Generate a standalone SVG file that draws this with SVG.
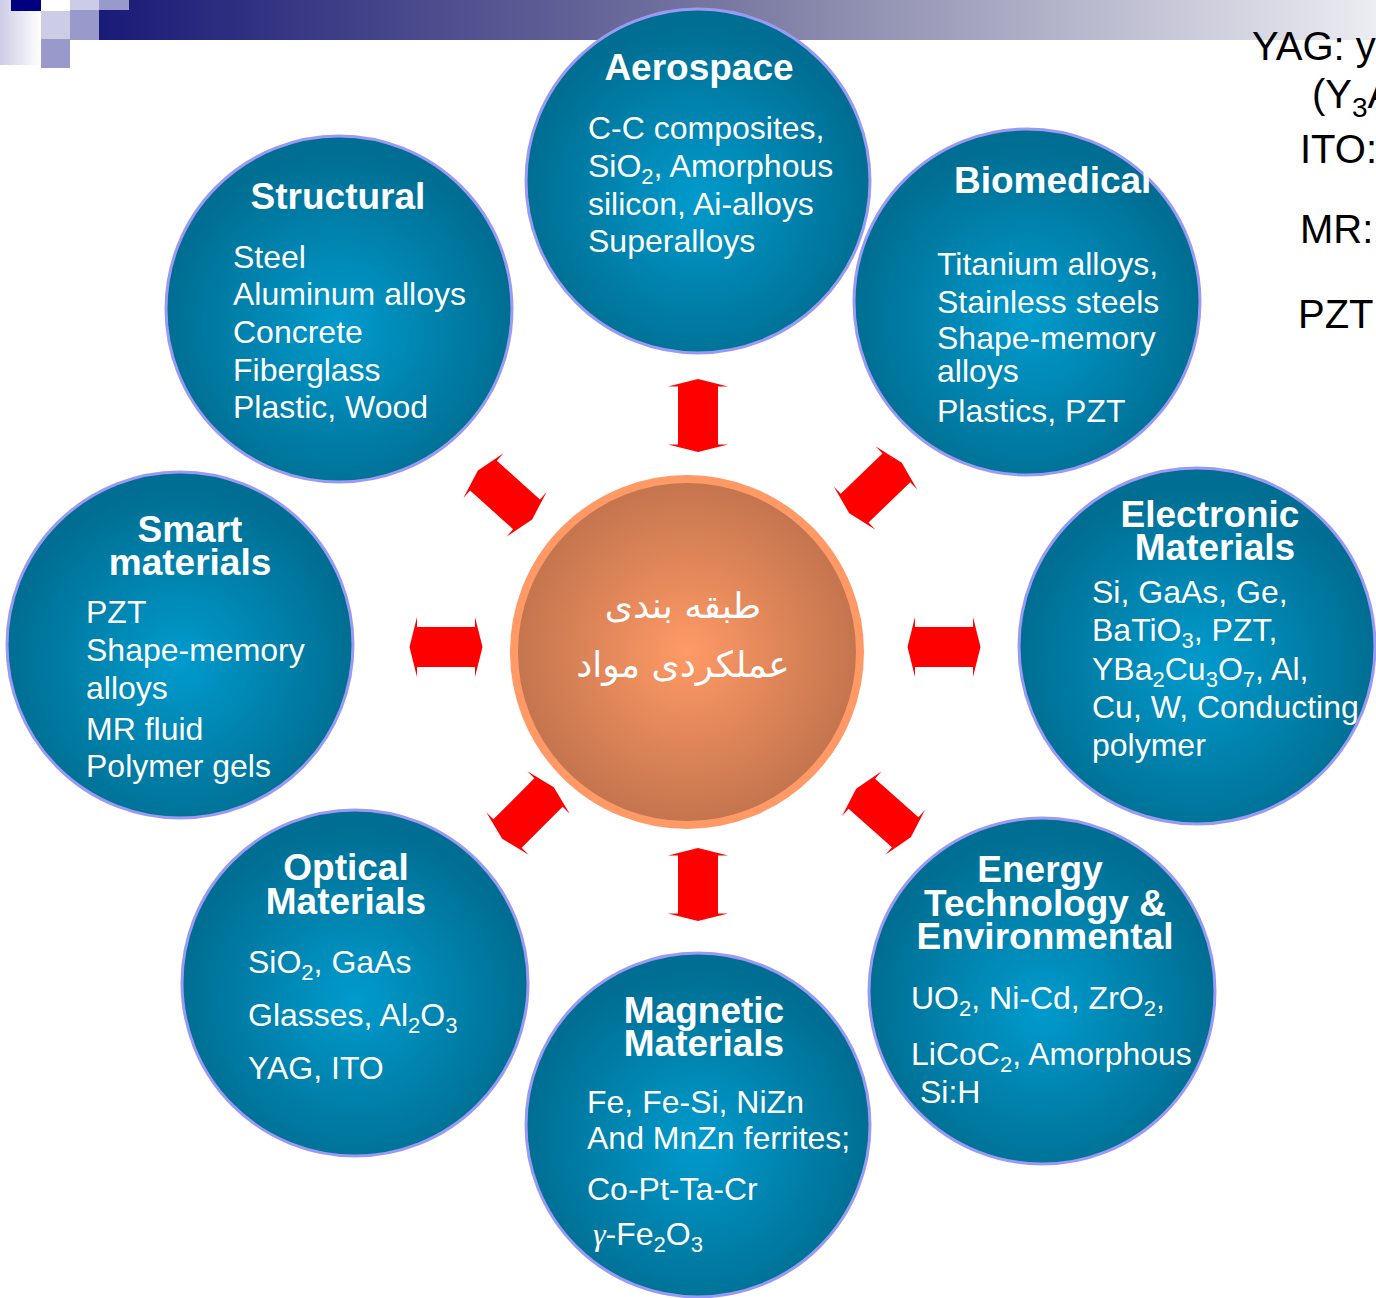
<svg xmlns="http://www.w3.org/2000/svg" xmlns:xlink="http://www.w3.org/1999/xlink" width="1376" height="1298" viewBox="0 0 1376 1298">
<defs>
  <linearGradient id="band" x1="99" y1="0" x2="1376" y2="0" gradientUnits="userSpaceOnUse">
    <stop offset="0" stop-color="#1a1a78"/>
    <stop offset="0.5" stop-color="#7a7aa2"/>
    <stop offset="1" stop-color="#ececf2"/>
  </linearGradient>
  <linearGradient id="lside" x1="0" y1="0" x2="1" y2="0">
    <stop offset="0" stop-color="#ccccE6"/>
    <stop offset="1" stop-color="#ffffff"/>
  </linearGradient>
  <radialGradient id="teal" cx="0.5" cy="0.55" r="0.5">
    <stop offset="0" stop-color="#009bcd"/>
    <stop offset="1" stop-color="#006e92"/>
  </radialGradient>
  <radialGradient id="copper" cx="0.5" cy="0.5" r="0.5">
    <stop offset="0" stop-color="#ff9a66"/>
    <stop offset="1" stop-color="#c3744e"/>
  </radialGradient>
  <polygon id="arr" points="0,-36.5 30,-29 20,-29 20,29 30,29 0,36.5 -30,29 -20,29 -20,-29 -30,-29"/>
  <style>
    .node circle { fill: url(#teal); stroke: #9a9af5; stroke-width: 3; }
    .t { font-family: "Liberation Sans", Arial, sans-serif; font-weight: bold; font-size: 37px; fill: #ffffff; text-anchor: middle; }
    .b { font-family: "Liberation Sans", Arial, sans-serif; font-size: 32px; fill: #ffffff; }
    .sub { font-size: 22px; }
    .side { font-family: "Liberation Sans", Arial, sans-serif; font-size: 40px; fill: #000000; }
    .fa { font-family: "DejaVu Sans", "Noto Sans", sans-serif; font-size: 36px; fill: #ffffff; text-anchor: middle; }
    .arrow { fill: #ff0000; }
  </style>
</defs>
<rect width="1376" height="1298" fill="#ffffff"/>

<g id="banner">
  <rect x="99" y="0" width="1277" height="40" fill="url(#band)"/>
  <rect x="0" y="0" width="41" height="65" fill="url(#lside)"/>
  <rect x="11" y="0" width="30" height="11" fill="#000080"/>
  <rect x="41" y="0" width="29" height="11" fill="#ffffff"/>
  <rect x="70" y="0" width="29" height="10" fill="#ccccE6"/>
  <rect x="99" y="0" width="30" height="10" fill="#9999cc"/>
  <rect x="41" y="11" width="29" height="28" fill="#ccccE6"/>
  <rect x="70" y="10" width="29" height="30" fill="#9999cc"/>
  <rect x="41" y="39" width="29" height="29" fill="#9999cc"/>
</g>

<g id="side-notes">
  <text class="side" x="1252" y="60">YAG: y</text>
  <text class="side" x="1312" y="108">(Y<tspan font-size="28" dy="9">3</tspan><tspan dy="-9">A</tspan></text>
  <text class="side" x="1300" y="163">ITO:</text>
  <text class="side" x="1300" y="243">MR:</text>
  <text class="side" x="1298" y="328">PZT</text>
</g>

<g id="connectors" class="arrow">
  <use xlink:href="#arr" href="#arr" transform="translate(698,415.5)"/>
  <use xlink:href="#arr" href="#arr" transform="translate(698,884.5)"/>
  <use xlink:href="#arr" href="#arr" transform="translate(446,647) rotate(90)"/>
  <use xlink:href="#arr" href="#arr" transform="translate(944,647) rotate(90)"/>
  <use xlink:href="#arr" href="#arr" transform="translate(505,495) rotate(-48)"/>
  <use xlink:href="#arr" href="#arr" transform="translate(875.5,488) rotate(46)"/>
  <use xlink:href="#arr" href="#arr" transform="translate(528,813) rotate(45)"/>
  <use xlink:href="#arr" href="#arr" transform="translate(883.5,813) rotate(-48.5)"/>
</g>

<g id="aerospace" class="node">
  <circle cx="698" cy="181" r="172"/>
  <text class="t" x="699" y="80">Aerospace</text>
  <text class="b" x="588" y="139">C-C composites,</text>
  <text class="b" x="588" y="177">SiO<tspan class="sub" dy="7">2</tspan><tspan dy="-7">, Amorphous</tspan></text>
  <text class="b" x="588" y="215">silicon, Ai-alloys</text>
  <text class="b" x="588" y="252">Superalloys</text>
</g>

<g id="structural" class="node">
  <circle cx="339" cy="309" r="173"/>
  <text class="t" x="338" y="209">Structural</text>
  <text class="b" x="233" y="268">Steel</text>
  <text class="b" x="233" y="305">Aluminum alloys</text>
  <text class="b" x="233" y="343">Concrete</text>
  <text class="b" x="233" y="381">Fiberglass</text>
  <text class="b" x="233" y="418">Plastic, Wood</text>
</g>

<g id="biomedical" class="node">
  <circle cx="1027" cy="302" r="173"/>
  <text class="t" x="954" y="193" style="text-anchor:start">Biomedical</text>
  <text class="b" x="937" y="275">Titanium alloys,</text>
  <text class="b" x="937" y="313">Stainless steels</text>
  <text class="b" x="937" y="349">Shape-memory</text>
  <text class="b" x="937" y="382">alloys</text>
  <text class="b" x="937" y="422">Plastics, PZT</text>
</g>

<g id="smart" class="node">
  <circle cx="180" cy="645" r="173"/>
  <text class="t" x="190" y="542">Smart</text>
  <text class="t" x="190" y="575">materials</text>
  <text class="b" x="86" y="623">PZT</text>
  <text class="b" x="86" y="661">Shape-memory</text>
  <text class="b" x="86" y="699">alloys</text>
  <text class="b" x="86" y="740">MR fluid</text>
  <text class="b" x="86" y="777">Polymer gels</text>
</g>

<g id="electronic" class="node">
  <circle cx="1197" cy="646" r="178"/>
  <text class="t" x="1210" y="527">Electronic</text>
  <text class="t" x="1215" y="560">Materials</text>
  <text class="b" x="1092" y="603">Si, GaAs, Ge,</text>
  <text class="b" x="1092" y="641">BaTiO<tspan class="sub" dy="7">3</tspan><tspan dy="-7">, PZT,</tspan></text>
  <text class="b" x="1092" y="680">YBa<tspan class="sub" dy="7">2</tspan><tspan dy="-7">Cu</tspan><tspan class="sub" dy="7">3</tspan><tspan dy="-7">O</tspan><tspan class="sub" dy="7">7</tspan><tspan dy="-7">, Al,</tspan></text>
  <text class="b" x="1092" y="718">Cu, W, Conducting</text>
  <text class="b" x="1092" y="756">polymer</text>
</g>

<g id="optical" class="node">
  <circle cx="355" cy="983" r="173"/>
  <text class="t" x="346" y="880">Optical</text>
  <text class="t" x="346" y="914">Materials</text>
  <text class="b" x="248" y="973">SiO<tspan class="sub" dy="7">2</tspan><tspan dy="-7">, GaAs</tspan></text>
  <text class="b" x="248" y="1026">Glasses, Al<tspan class="sub" dy="7">2</tspan><tspan dy="-7">O</tspan><tspan class="sub" dy="7">3</tspan></text>
  <text class="b" x="248" y="1079">YAG, ITO</text>
</g>

<g id="magnetic" class="node">
  <circle cx="698" cy="1125" r="172"/>
  <text class="t" x="704" y="1023">Magnetic</text>
  <text class="t" x="704" y="1056">Materials</text>
  <text class="b" x="587" y="1113">Fe, Fe-Si, NiZn</text>
  <text class="b" x="587" y="1149">And MnZn ferrites;</text>
  <text class="b" x="587" y="1200">Co-Pt-Ta-Cr</text>
  <text class="b" x="593" y="1245"><tspan font-family="Liberation Serif, serif" font-style="italic">γ</tspan>-Fe<tspan class="sub" dy="7">2</tspan><tspan dy="-7">O</tspan><tspan class="sub" dy="7">3</tspan></text>
</g>

<g id="energy" class="node">
  <circle cx="1042" cy="991" r="173"/>
  <text class="t" x="1040" y="882">Energy</text>
  <text class="t" x="1045" y="916">Technology &amp;</text>
  <text class="t" x="1045" y="949">Environmental</text>
  <text class="b" x="911" y="1009">UO<tspan class="sub" dy="7">2</tspan><tspan dy="-7">, Ni-Cd, ZrO</tspan><tspan class="sub" dy="7">2</tspan><tspan dy="-7">,</tspan></text>
  <text class="b" x="911" y="1065">LiCoC<tspan class="sub" dy="7">2</tspan><tspan dy="-7">, Amorphous</tspan></text>
  <text class="b" x="920" y="1103">Si:H</text>
</g>

<g id="center">
  <circle cx="687" cy="652" r="173" fill="url(#copper)" stroke="#ff9966" stroke-width="8"/>
  <text class="fa" x="683" y="618" direction="rtl">طبقه بندی</text>
  <text class="fa" x="683" y="677" direction="rtl">عملکردی مواد</text>
</g>
</svg>
